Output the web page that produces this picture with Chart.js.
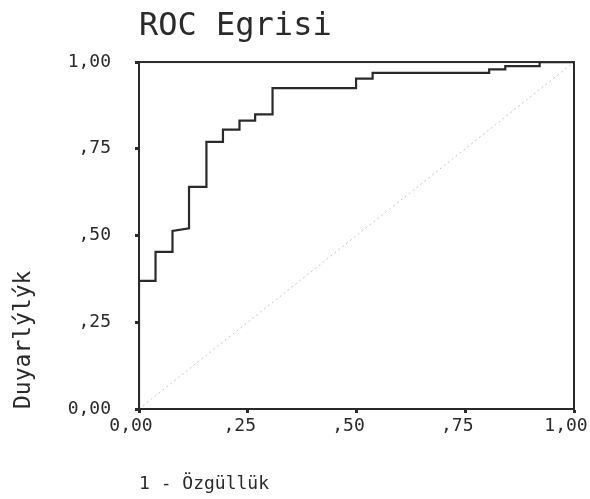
<!DOCTYPE html>
<html>
<head>
<meta charset="utf-8">
<script src="https://cdn.jsdelivr.net/npm/chart.js@4"></script>
<style>
  html, body { margin: 0; padding: 0; background: #fff; }
  #roc { display: block; }
</style>
</head>
<body>
<canvas id="roc" width="590" height="499"></canvas>
<script>
// ROC curve vertices (1 - specificity, sensitivity)
const fprValues = [0, 0, 0.038, 0.038, 0.077, 0.077, 0.115, 0.115, 0.155, 0.155, 0.193, 0.193,
    0.231, 0.231, 0.267, 0.267, 0.307, 0.307, 0.499, 0.499, 0.537, 0.537, 0.805, 0.805,
    0.842, 0.842, 0.921, 0.921, 1.0];
const tprValues = [0, 0.369, 0.369, 0.453, 0.453, 0.513, 0.521, 0.640, 0.640, 0.770, 0.770, 0.805,
    0.805, 0.831, 0.831, 0.849, 0.849, 0.925, 0.925, 0.952, 0.952, 0.969, 0.969, 0.979,
    0.979, 0.988, 0.988, 1.0, 1.0];
// reference diagonal
const diagX = [0, 1];
const diagY = [0, 1];
const tickValues = [0, 0.25, 0.5, 0.75, 1];
const tickLabels = ['0,00', ',25', ',50', ',75', '1,00'];

const FONT = "'DejaVu Sans Mono', 'Liberation Mono', monospace";
const INK = '#2a2a2a';

function tickLabel(value) {
    let i = tickValues.findIndex(v => Math.abs(v - value) < 1e-6);
    return i >= 0 ? tickLabels[i] : '';
}

// draws the closed frame round the plot area
const frame = {
    id: 'frame',
    afterDraw(chart) {
        let { ctx, chartArea } = chart;
        ctx.save();
        ctx.strokeStyle = INK;
        ctx.lineWidth = 2;
        ctx.strokeRect(chartArea.left, chartArea.top, chartArea.right - chartArea.left, chartArea.bottom - chartArea.top);
        ctx.restore();
    }
};

let ctx = document.getElementById('roc');
let chart = new Chart(ctx, {
    type: 'scatter',
    data: {
        datasets: [
            {
                label: 'Diagonal',
                data: diagX.map((x, i) => ({ x: x, y: diagY[i] })),
                showLine: true,
                borderColor: '#c4c4c4',
                borderWidth: 1,
                borderDash: [2, 3],
                pointRadius: 0,
                fill: false
            },
            {
                label: 'ROC',
                data: fprValues.map((x, i) => ({ x: x, y: tprValues[i] })),
                showLine: true,
                borderColor: INK,
                borderWidth: 2.2,
                pointRadius: 0,
                tension: 0,
                fill: false
            }
        ]
    },
    options: {
        responsive: false,
        animation: false,
        devicePixelRatio: 1,
        layout: { padding: { top: 0, right: 16, bottom: 0, left: 0 } },
        scales: {
            x: {
                type: 'linear',
                min: 0,
                max: 1,
                afterFit: (scale) => {
                    scale.height = 90;
                    scale.paddingLeft = 0;
                    scale.paddingRight = 0;
                },
                afterBuildTicks: (scale) => { scale.ticks = tickValues.map(v => ({ value: v })); },
                ticks: {
                    callback: tickLabel,
                    color: INK,
                    padding: 3,
                    labelOffset: -8,
                    maxRotation: 0,
                    font: { family: FONT, size: 18 }
                },
                grid: { drawOnChartArea: false, drawTicks: true, tickLength: 4, tickWidth: 3, tickColor: INK },
                border: { display: true, color: INK, width: 2 },
                title: {
                    display: true,
                    text: '1 - Özgüllük',
                    align: 'start',
                    color: INK,
                    padding: { top: 0, bottom: 4 },
                    font: { family: FONT, size: 18 }
                }
            },
            y: {
                type: 'linear',
                min: 0,
                max: 1,
                afterFit: (scale) => {
                    scale.width = 139;
                    scale.paddingTop = 0;
                    scale.paddingBottom = 0;
                },
                afterBuildTicks: (scale) => { scale.ticks = tickValues.map(v => ({ value: v })); },
                ticks: {
                    callback: tickLabel,
                    color: INK,
                    padding: 24,
                    font: { family: FONT, size: 18 }
                },
                grid: { drawOnChartArea: false, drawTicks: true, tickLength: 4, tickWidth: 3, tickColor: INK },
                border: { display: true, color: INK, width: 2 },
                title: {
                    display: true,
                    text: 'Duyarlýlýk',
                    align: 'start',
                    color: INK,
                    padding: { top: 10, bottom: 0 },
                    font: { family: FONT, size: 23 }
                }
            }
        },
        plugins: {
            legend: { display: false },
            tooltip: { enabled: false },
            title: {
                display: true,
                text: 'ROC Egrisi',
                align: 'start',
                fullSize: false,
                color: INK,
                padding: { top: 9, bottom: 17.2 },
                font: { family: FONT, size: 32, weight: 'normal', lineHeight: 1.12 }
            }
        }
    },
    plugins: [frame]
});
</script>
</body>
</html>
